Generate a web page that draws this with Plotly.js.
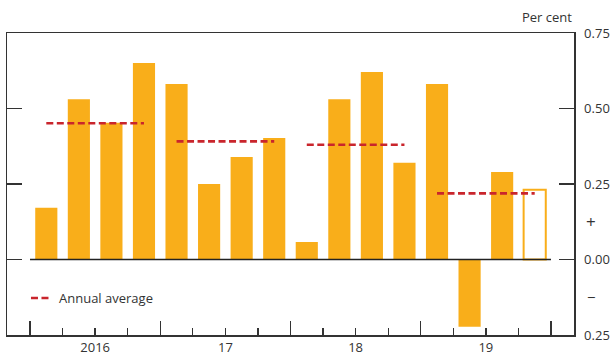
<!DOCTYPE html>
<html>
<head>
<meta charset="utf-8">
<script src="https://cdn.plot.ly/plotly-3.0.1.min.js"></script>
<style>html,body{margin:0;padding:0;background:#fff;}#chart{width:612px;height:356px;}</style>
</head>
<body>
<div id="chart"></div>
<script>
// Quarterly growth, per cent (last quarter is a projection)
const quarters = ['2016 Q1','2016 Q2','2016 Q3','2016 Q4','2017 Q1','2017 Q2','2017 Q3','2017 Q4',
                  '2018 Q1','2018 Q2','2018 Q3','2018 Q4','2019 Q1','2019 Q2','2019 Q3','2019 Q4'];
const growth = [0.171, 0.531, 0.453, 0.651, 0.581, 0.250, 0.339, 0.402,
                0.058, 0.531, 0.621, 0.320, 0.581, -0.223, 0.290, 0.231];
const projected = [false,false,false,false,false,false,false,false,
                   false,false,false,false,false,false,false,true];
const years = ['2016','17','18','19'];
const annualAverage = [0.451, 0.391, 0.380, 0.219];
const yTickVals = [-0.25, 0, 0.25, 0.5, 0.75];
const yTickText = ['0.25','0.00','0.25','0.50','0.75'];

const ORANGE = '#f9ae1a';
const RED = '#c9252c';
const INK = '#333333';
const FONT = 'Open Sans, sans-serif';

const xIdx = quarters.map((_, i) => i);
const n = quarters.length;

// annual average segments from first to last quarter of each year
const avgX = [], avgY = [];
years.forEach((yr, k) => {
  avgX.push(4*k, 4*k+3, null);
  avgY.push(annualAverage[k], annualAverage[k], null);
});

const barTrace = {
  type: 'bar', x: xIdx, y: growth, hovertext: quarters, hoverinfo: 'text+y',
  textposition: 'none',
  width: 0.68,
  marker: {
    color: projected.map(p => p ? '#ffffff' : ORANGE),
    line: { color: ORANGE, width: projected.map(p => p ? 2 : 0) }
  },
  showlegend: false
};
const avgTrace = {
  type: 'scatter', mode: 'lines', x: avgX, y: avgY, xaxis: 'x2',
  line: { color: RED, width: 2.6, dash: '7px,3.5px' },
  connectgaps: false, name: 'Annual average', showlegend: false
};

const xr = [-1.207, n - 1 + 1.207];
const yearCenters = years.map((_, k) => 4*k + 1.5);
const bounds = years.map((_, k) => 4*k - 0.5).concat([n - 0.5]);
const quarterBounds = xIdx.map(i => i - 0.5).concat([n - 0.5]);

const layout = {
  width: 612, height: 356,
  margin: { l: 7, r: 38, t: 33, b: 21, pad: 0 },
  paper_bgcolor: '#fff', plot_bgcolor: '#fff',
  font: { family: FONT, size: 12, color: INK },
  showlegend: false,
  bargap: 0,
  xaxis: {
    range: xr, showgrid: false, zeroline: false,
    showline: true, linecolor: INK, linewidth: 1.5, mirror: true,
    tickvals: yearCenters, ticktext: years, ticks: '',
    tickfont: { family: FONT, size: 13, color: INK }
  },
  xaxis2: {
    overlaying: 'x', anchor: 'y', side: 'bottom', range: xr,
    showgrid: false, zeroline: false, showline: false, showticklabels: false,
    tickvals: bounds, ticks: 'inside', ticklen: 14, tickwidth: 1.5, tickcolor: INK,
    minor: { tickvals: quarterBounds, ticks: 'inside', ticklen: 7, tickwidth: 1.3, tickcolor: INK, showgrid: false }
  },
  yaxis: {
    range: [-0.25, 0.75], side: 'right', showgrid: false, zeroline: false,
    showline: true, linecolor: INK, linewidth: 1.5, mirror: 'ticks',
    tickvals: yTickVals, ticktext: yTickText,
    ticks: 'inside', ticklen: 15, tickwidth: 1.5, tickcolor: INK,
    ticklabelstandoff: 6,
    tickfont: { family: FONT, size: 13, color: INK }
  },
  shapes: [
    { type: 'line', xref: 'x', yref: 'y', x0: -0.5, x1: n - 0.5, y0: 0, y1: 0,
      line: { color: '#222', width: 1.5 } },
    { type: 'line', xref: 'paper', yref: 'paper', x0: 0.0423, x1: 0.0758, y0: 0.1225, y1: 0.1225,
      line: { color: RED, width: 2.6, dash: '7px,3.5px' } }
  ],
  annotations: [
    { xref: 'paper', yref: 'paper', x: 1, y: 1, xanchor: 'right', yanchor: 'middle', yshift: 16,
      text: 'Per cent', showarrow: false, font: { family: FONT, size: 13, color: INK } },
    { xref: 'paper', yref: 'y', x: 1, y: 0.125, xanchor: 'center', yanchor: 'middle', xshift: 17,
      text: '+', showarrow: false, font: { family: FONT, size: 17, color: INK } },
    { xref: 'paper', yref: 'y', x: 1, y: -0.125, xanchor: 'center', yanchor: 'middle', xshift: 17,
      text: '\u2212', showarrow: false, font: { family: FONT, size: 15, color: INK } },
    { xref: 'paper', yref: 'paper', x: 0.0882, y: 0.1225, xanchor: 'left', yanchor: 'middle',
      text: 'Annual average', showarrow: false, font: { family: FONT, size: 13, color: INK } }
  ]
};

Plotly.newPlot('chart', [barTrace, avgTrace], layout, { displayModeBar: false, staticPlot: true });
</script>
</body>
</html>
